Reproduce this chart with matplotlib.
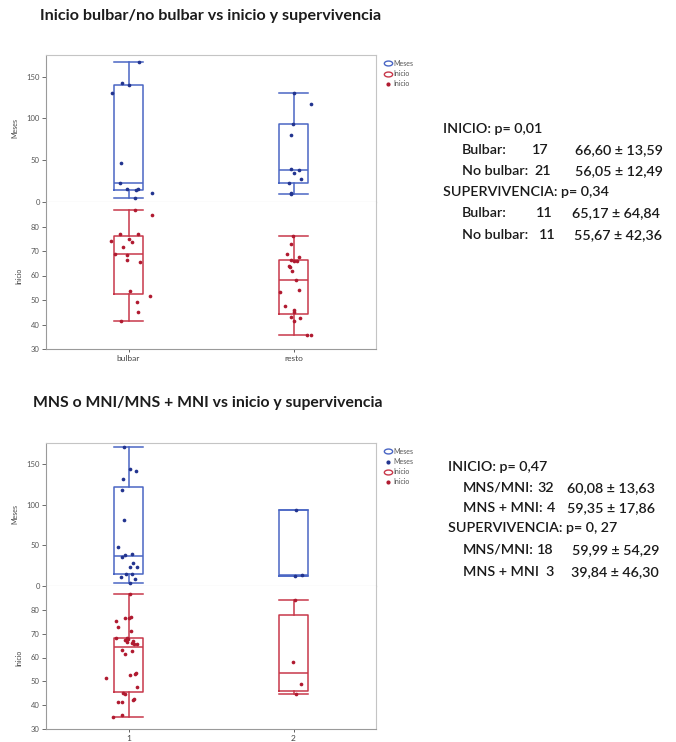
import numpy as np
import matplotlib.pyplot as plt
from matplotlib.lines import Line2D
from matplotlib.path import Path
from matplotlib.transforms import Affine2D

plt.rcParams["font.family"] = ["Lato", "DejaVu Sans"]

W, H = 676, 742

# ---- data: chart 1 (bulbar / resto) ----
groups1 = ["bulbar", "resto"]
meses1_bulbar = [168, 142, 140, 130, 47, 23, 16, 14, 15, 5, 11]
meses1_bulbar_jit = [0.064, -0.037, 0.003, -0.102, -0.047, -0.052, -0.007, 0.044, 0.058, 0.039, 0.140]
meses1_resto = [130, 117, 93, 80, 40, 35, 38, 28, 23, 11, 9]
meses1_resto_jit = [0.004, 0.105, -0.002, -0.014, -0.014, 0.004, 0.034, 0.044, -0.026, -0.014, -0.016]
inicio1_bulbar = [86.9, 84.7, 74.1, 76.8, 76.8, 75.1, 73.7, 71.8, 68.6, 68.3, 66.5, 65.7,
                  53.5, 51.8, 49.1, 45.0, 41.5]
inicio1_bulbar_jit = [0.039, 0.140, -0.104, -0.052, 0.058, 0.003, 0.023, -0.031, -0.084, -0.011,
                      -0.007, 0.070, 0.009, 0.130, 0.050, 0.058, -0.047]
inicio1_resto = [76.2, 73.0, 68.6, 67.6, 66.3, 66.1, 63.4, 62.0, 58.3, 54.2, 53.1, 47.7, 45.9,
                 45.2, 43.2, 42.8, 41.5, 35.6, 35.9, 66.0, 64.0]
inicio1_resto_jit = [-0.004, -0.014, -0.040, 0.036, -0.014, 0.006, -0.024, -0.010, 0.016, 0.036,
                     -0.081, -0.051, 0.0, 0.004, -0.014, 0.040, 0.0, 0.081, 0.107, 0.020, -0.030]

# ---- data: chart 2 (1 / 2) ----
groups2 = ["1", "2"]
meses2_g1 = [170.6, 143.8, 141.8, 131.5, 118.3, 81.2, 48.2, 35.9, 37.9, 39.2, 28.4, 23.5, 23.5,
             14.4, 15.2, 11.1, 8.2, 4.1]
meses2_g1_jit = [-0.027, 0.009, 0.044, -0.035, -0.041, -0.027, -0.062, -0.037, -0.021, 0.023,
                 0.029, 0.054, 0.009, -0.017, 0.019, -0.044, 0.037, 0.009]
meses2_g2 = [93.5, 12.0, 13.2]
meses2_g2_jit = [0.018, 0.008, 0.053]
inicio2_g1 = [86.6, 75.5, 76.5, 76.5, 73.0, 71.3, 68.1, 68.1, 67.4, 67.7, 66.0, 65.6, 65.8, 63.2,
              62.8, 61.6, 53.7, 53.0, 52.8, 51.4, 47.5, 45.1, 44.7, 42.7, 42.3, 41.3, 41.3, 36.0,
              35.0, 77.0, 66.5, 67.0]
inicio2_g1_jit = [0.009, -0.078, -0.021, 0.003, -0.062, 0.013, -0.074, -0.011, -0.021, -0.001,
                  0.023, 0.033, 0.053, -0.037, 0.019, -0.023, 0.044, 0.039, 0.009, -0.138, 0.053,
                  -0.031, -0.021, 0.033, 0.027, -0.062, -0.037, -0.041, -0.092, 0.015, -0.010, 0.030]
inicio2_g2 = [84.2, 58.1, 48.9, 44.7]
inicio2_g2_jit = [0.008, -0.002, 0.048, 0.018]

title1 = "Inicio bulbar/no bulbar vs inicio y supervivencia"
title2 = "MNS o MNI/MNS + MNI vs inicio y supervivencia"

stats1_head = ["INICIO: p= 0,01", "SUPERVIVENCIA: p= 0,34"]
stats1_rows = [("Bulbar:", "17", "66,60 ± 13,59"), ("No bulbar:", "21", "56,05 ± 12,49"),
               ("Bulbar:", "11", "65,17 ± 64,84"), ("No bulbar:", "11", "55,67 ± 42,36")]
stats2_head = ["INICIO: p= 0,47", "SUPERVIVENCIA: p= 0, 27"]
stats2_rows = [("MNS/MNI:", "32", "60,08 ± 13,63"), ("MNS + MNI:", "4", "59,35 ± 17,86"),
               ("MNS/MNI:", "18", "59,99 ± 54,29"), ("MNS + MNI", "3", "39,84 ± 46,30")]

BLUE_BOX = "#4a66c4"
BLUE_PT = "#22348f"
RED_BOX = "#c8384a"
RED_PT = "#b01a30"
FRAME = "#c4c4c4"
AXC = "#9a9a9a"


def box_stats(vals):
    v = np.asarray(vals, float)
    q1, med, q3 = np.percentile(v, [25, 50, 75], method="weibull")
    iqr = q3 - q1
    lo = v[v >= q1 - 1.5 * iqr].min()
    hi = v[v <= q3 + 1.5 * iqr].max()
    return dict(med=med, q1=q1, q3=q3, whislo=lo, whishi=hi, fliers=[])


def draw_panel(ax, data, jits, box_c, pt_c, ylim, yticks):
    stats = [box_stats(d) for d in data]
    lp = dict(color=box_c, linewidth=1.1)
    ax.bxp(stats, positions=[0, 1], widths=0.18, capwidths=0.18, showfliers=False,
           boxprops=lp, whiskerprops=lp, capprops=lp, medianprops=lp)
    for i, (d, j) in enumerate(zip(data, jits)):
        ax.scatter(i + np.asarray(j), d, s=7, color=pt_c, zorder=3, linewidths=0)
    ax.set_xlim(-0.5, 1.5)
    ax.set_ylim(*ylim)
    ax.set_yticks(yticks)
    ax.tick_params(axis="y", labelsize=5.5, colors="#555555", length=3, width=0.6, pad=1.5)
    for s in ["top", "right"]:
        ax.spines[s].set_color(FRAME)
    for s in ["left", "bottom"]:
        ax.spines[s].set_color(AXC)
    for s in ax.spines.values():
        s.set_linewidth(0.8)


def ellipse_marker():
    return Path.unit_circle().transformed(Affine2D().scale(1.7, 1.0))


def make_chart(fig, top_px, mid_px, bot_px, groups, meses, meses_j, inicio, inicio_j,
               legend_entries):
    left = 46 / W
    width = (376 - 46) / W
    ax_m = fig.add_axes([left, 1 - mid_px / H, width, (mid_px - top_px) / H])
    ax_i = fig.add_axes([left, 1 - bot_px / H, width, (bot_px - mid_px) / H])
    draw_panel(ax_m, meses, meses_j, BLUE_BOX, BLUE_PT, (0, 176), [0, 50, 100, 150])
    draw_panel(ax_i, inicio, inicio_j, RED_BOX, RED_PT, (30, 90), [30, 40, 50, 60, 70, 80])
    ax_m.set_xticks([])
    ax_m.spines["bottom"].set_color("#b8b8b8")
    ax_i.spines["top"].set_visible(False)
    ax_i.set_xticks([0, 1])
    ax_i.set_xticklabels(groups)
    ax_i.tick_params(axis="x", labelsize=6, colors="#444444", length=2, width=0.6, pad=2)
    ax_m.set_ylabel("Meses", fontsize=5, color="#444444", labelpad=6)
    ax_i.set_ylabel("Inicio", fontsize=5, color="#444444", labelpad=6)
    handles = []
    for lab, col, kind in legend_entries:
        if kind == "box":
            h = Line2D([], [], ls="none", marker=ellipse_marker(), markersize=6,
                       mfc="white", mec=col, mew=1.0, label=lab)
        else:
            h = Line2D([], [], ls="none", marker="o", markersize=2, mfc=col, mec=col, label=lab)
        handles.append(h)
    ax_m.legend(handles=handles, loc="upper left", bbox_to_anchor=(1.01, 1.0), frameon=False,
                fontsize=5, handlelength=1.0, handletextpad=0.3, labelspacing=0.45,
                borderaxespad=0.3, labelcolor="#555555")
    return ax_m, ax_i


def stats_block(fig, x_head, x_lab, heads, rows, ys, x_cnt, x_val):
    fs = 10.3
    col = "#1a1a1a"
    kw = dict(fontsize=fs, va="center", color=col, fontweight="semibold")
    order = [("h", heads[0]), ("r", rows[0]), ("r", rows[1]),
             ("h", heads[1]), ("r", rows[2]), ("r", rows[3])]
    for (kind, item), y, xc, xv in zip(order, ys, x_cnt, x_val):
        fy = 1 - y / H
        if kind == "h":
            fig.text(x_head / W, fy, item, **kw)
        else:
            fig.text(x_lab / W, fy, item[0], **kw)
            fig.text(xc / W, fy, item[1], ha="right", **kw)
            fig.text(xv / W, fy, item[2], ha="right", **kw)


fig = plt.figure(figsize=(W / 100, H / 100), dpi=100)

fig.text(40 / W, 1 - 16 / H, title1, fontsize=11.6, fontweight="bold", va="center", color="#1c1c1c")
fig.text(33 / W, 1 - 403 / H, title2, fontsize=11.3, fontweight="bold", va="center", color="#1c1c1c")

make_chart(fig, 55, 202, 349, groups1,
           [meses1_bulbar, meses1_resto], [meses1_bulbar_jit, meses1_resto_jit],
           [inicio1_bulbar, inicio1_resto], [inicio1_bulbar_jit, inicio1_resto_jit],
           [("Meses", BLUE_BOX, "box"), ("Inicio", RED_BOX, "box"), ("Inicio", RED_PT, "pt")])

make_chart(fig, 443, 586, 729, groups2,
           [meses2_g1, meses2_g2], [meses2_g1_jit, meses2_g2_jit],
           [inicio2_g1, inicio2_g2], [inicio2_g1_jit, inicio2_g2_jit],
           [("Meses", BLUE_BOX, "box"), ("Meses", BLUE_PT, "pt"),
            ("Inicio", RED_BOX, "box"), ("Inicio", RED_PT, "pt")])

stats_block(fig, 443, 462, stats1_head, stats1_rows,
            [129, 150, 171, 192, 213, 235],
            [None, 549, 551, None, 553, 556], [None, 663, 663, None, 660, 662])
stats_block(fig, 448, 463, stats2_head, stats2_rows,
            [467, 488, 508, 528, 550, 572],
            [None, 554, 555, None, 554, 554], [None, 655, 655, None, 659, 659])

fig.savefig("out.png", dpi=100, facecolor="white")
